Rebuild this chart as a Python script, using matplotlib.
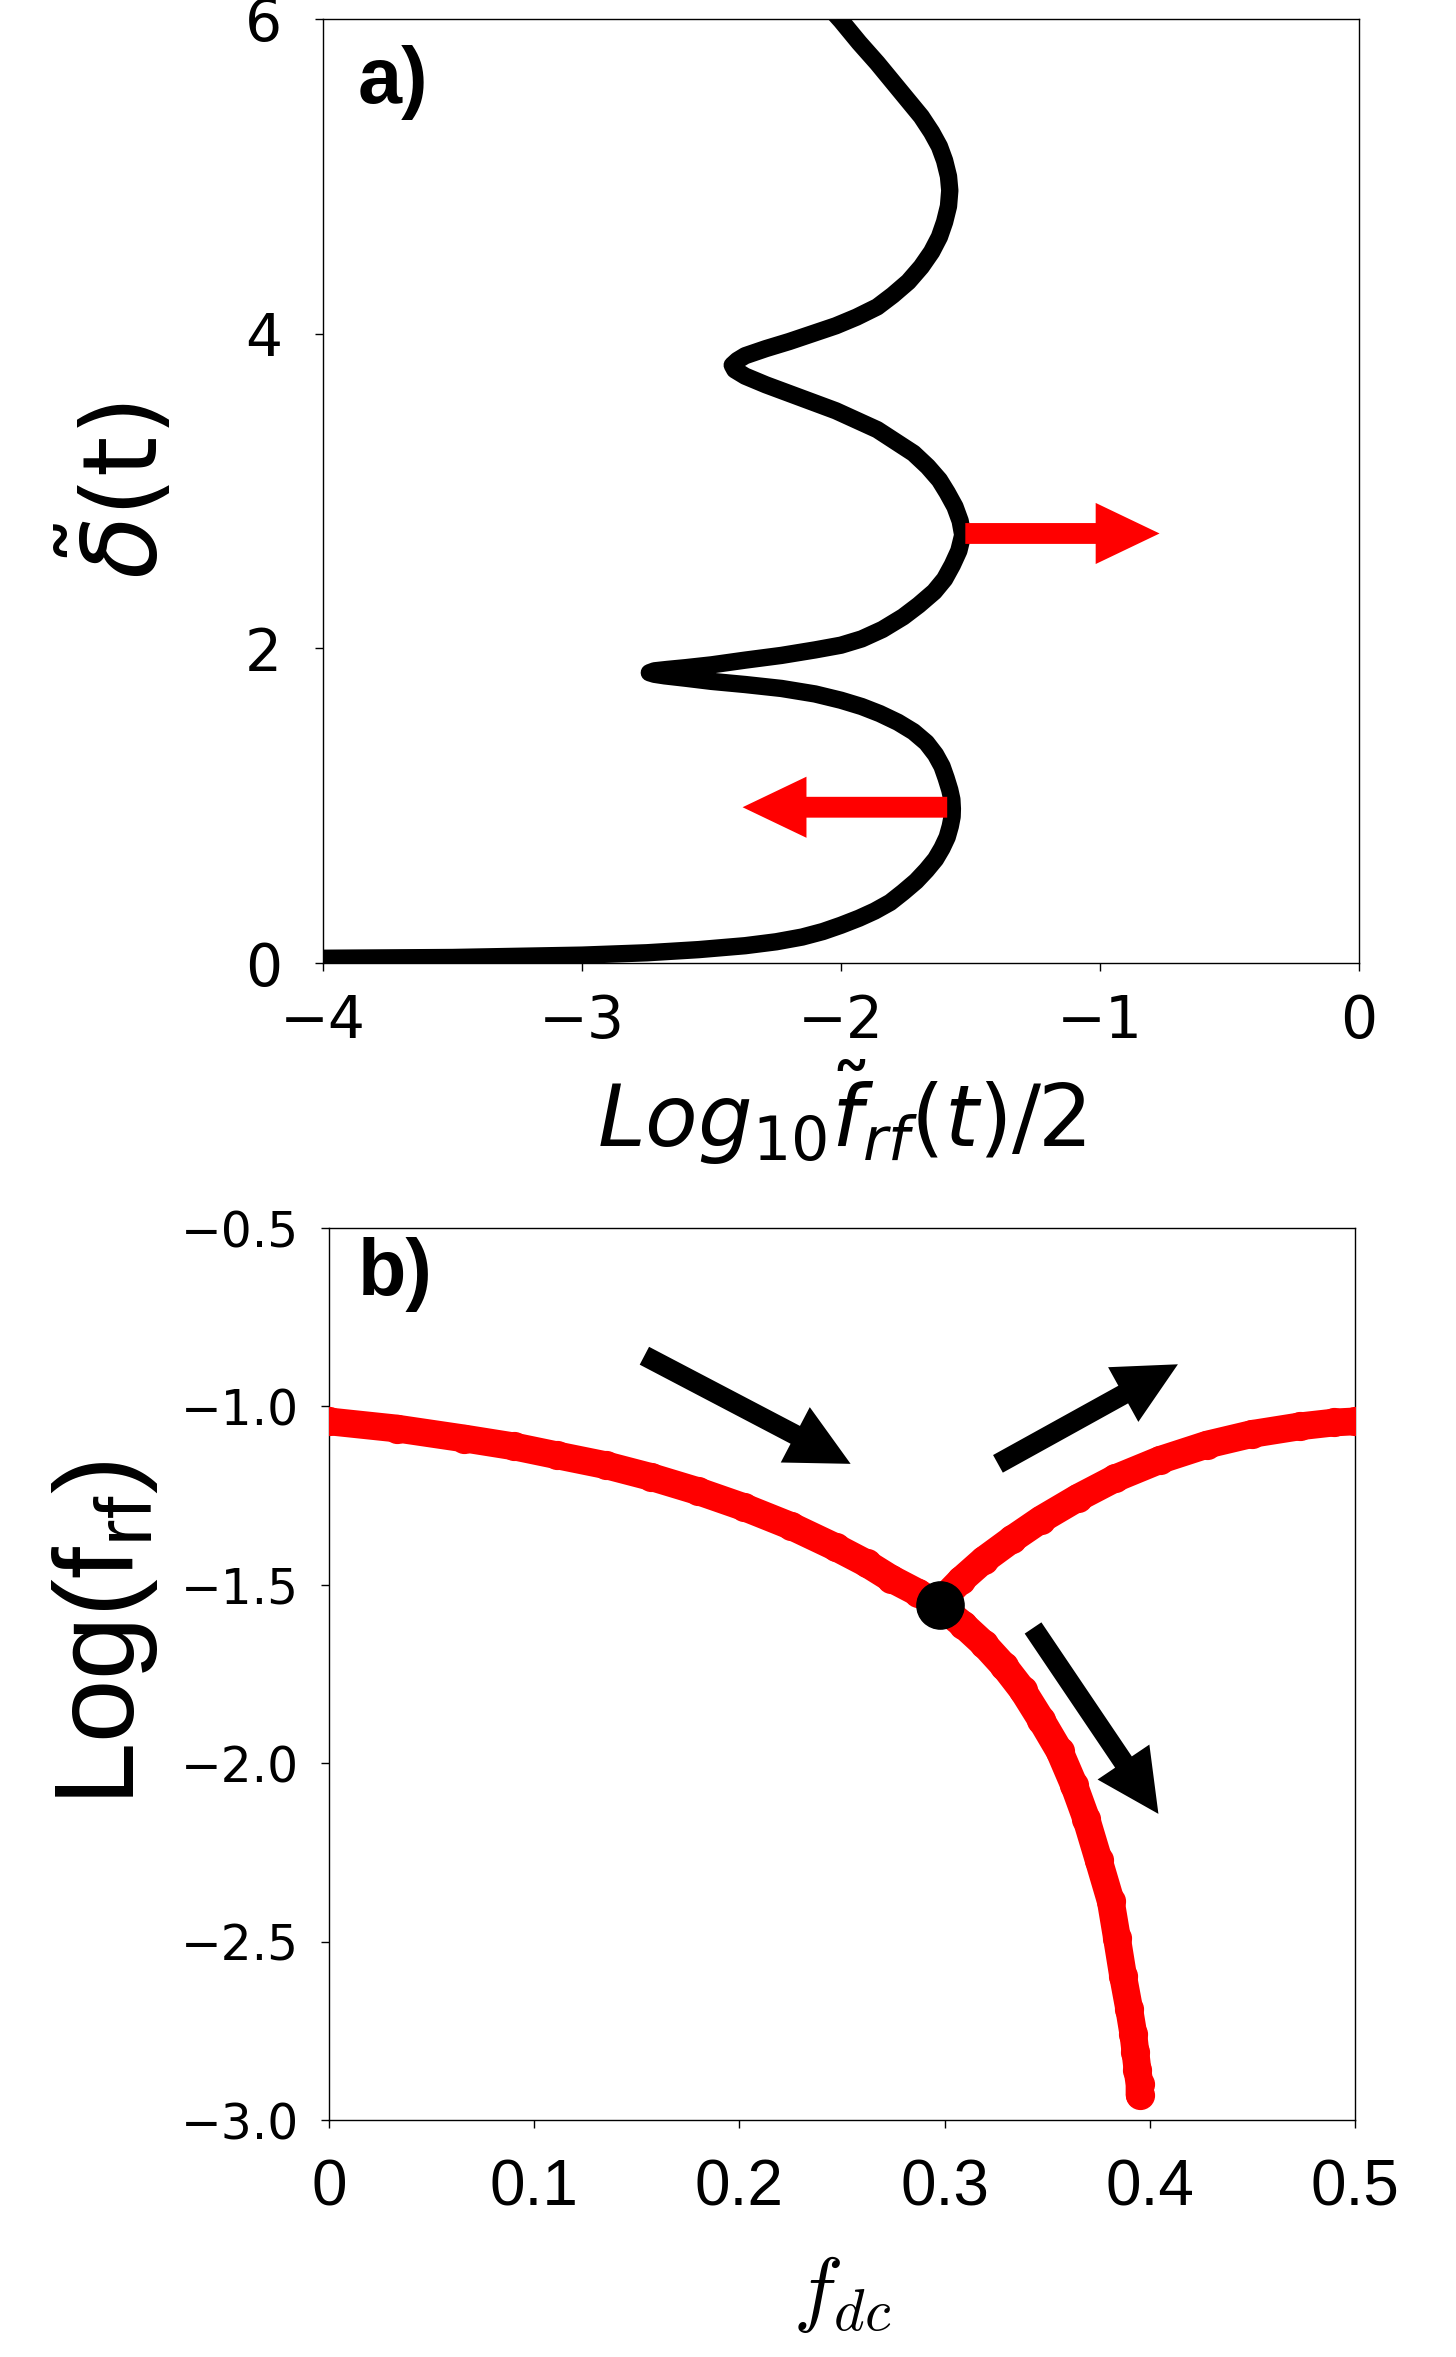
import matplotlib
matplotlib.use("Agg")
import matplotlib.pyplot as plt

# ---------------- data: panel a ----------------
curve_a_x = [-4.00, -3.50, -3.00, -2.75, -2.55, -2.37, -2.25, -2.15, -2.07, -2.00,
             -1.93, -1.87, -1.81, -1.76, -1.71, -1.67, -1.635, -1.61, -1.59, -1.578,
             -1.571, -1.57, -1.572, -1.58, -1.594, -1.61, -1.635, -1.67, -1.72, -1.78,
             -1.85, -1.92, -2.00, -2.10, -2.23, -2.37, -2.50, -2.60, -2.68, -2.72,
             -2.74, -2.72, -2.67, -2.60, -2.50, -2.37, -2.23, -2.10, -2.00, -1.92,
             -1.84, -1.76, -1.70, -1.64, -1.60, -1.57, -1.545, -1.53, -1.54, -1.56,
             -1.59, -1.62, -1.665, -1.72, -1.79, -1.86, -1.94, -2.02, -2.11, -2.20,
             -2.29, -2.37, -2.41, -2.42, -2.40, -2.37, -2.29, -2.20, -2.11, -2.02,
             -1.94, -1.86, -1.80, -1.74, -1.69, -1.65, -1.62, -1.60, -1.585, -1.58,
             -1.585, -1.60, -1.62, -1.65, -1.69, -1.74, -1.80, -1.86, -1.93, -2.00,
             -2.06]
curve_a_y = [0.030, 0.035, 0.050, 0.065, 0.085, 0.110, 0.135, 0.165, 0.200, 0.240,
             0.285, 0.330, 0.385, 0.450, 0.520, 0.590, 0.660, 0.730, 0.800, 0.870,
             0.930, 0.980, 1.040, 1.100, 1.175, 1.250, 1.325, 1.400, 1.470, 1.530,
             1.585, 1.630, 1.670, 1.710, 1.745, 1.770, 1.790, 1.810, 1.825, 1.835,
             1.845, 1.857, 1.866, 1.877, 1.895, 1.925, 1.955, 1.990, 2.020, 2.060,
             2.120, 2.200, 2.275, 2.360, 2.440, 2.530, 2.620, 2.720, 2.810, 2.900,
             2.990, 3.070, 3.155, 3.240, 3.315, 3.390, 3.450, 3.510, 3.565, 3.620,
             3.675, 3.730, 3.770, 3.800, 3.830, 3.860, 3.905, 3.950, 4.000, 4.050,
             4.105, 4.170, 4.245, 4.330, 4.425, 4.520, 4.615, 4.710, 4.810, 4.910,
             5.000, 5.100, 5.190, 5.280, 5.380, 5.480, 5.600, 5.720, 5.850, 5.990,
             6.100]
arrows_a_tail = [(-1.52, 2.73), (-1.59, 0.99)]
arrows_a_tip = [(-0.77, 2.73), (-2.38, 0.99)]
xticks_a = [-4, -3, -2, -1, 0]
yticks_a = [0, 2, 4, 6]

# ---------------- data: panel b ----------------
left_x = [0.000, 0.033, 0.066, 0.090, 0.111, 0.135, 0.157, 0.180, 0.202, 0.225,
          0.247, 0.262, 0.274, 0.287, 0.298, 0.309, 0.319, 0.329, 0.338, 0.347,
          0.356, 0.363, 0.369, 0.375, 0.381, 0.384, 0.387, 0.390, 0.392, 0.393,
          0.394, 0.395, 0.395]
left_y = [-1.042, -1.062, -1.090, -1.112, -1.137, -1.165, -1.198, -1.238, -1.282, -1.335,
          -1.395, -1.440, -1.483, -1.522, -1.560, -1.612, -1.665, -1.728, -1.795, -1.878,
          -1.966, -2.060, -2.155, -2.270, -2.387, -2.490, -2.597, -2.690, -2.760, -2.810,
          -2.860, -2.900, -2.929]
right_x = [0.298, 0.308, 0.319, 0.333, 0.347, 0.365, 0.383, 0.405, 0.428, 0.450,
           0.473, 0.490, 0.500]
right_y = [-1.546, -1.487, -1.431, -1.372, -1.317, -1.256, -1.202, -1.150, -1.107, -1.077,
           -1.056, -1.045, -1.042]
junction = (0.2978, -1.557)
arrows_b_tail = [(0.1537, -0.858), (0.326, -1.161), (0.3431, -1.621)]
arrows_b_tip = [(0.2542, -1.161), (0.4137, -0.882), (0.4042, -2.142)]
xticks_b = [0, 0.1, 0.2, 0.3, 0.4, 0.5]
xticklabels_b = ["0", "0.1", "0.2", "0.3", "0.4", "0.5"]
yticks_b = [-3.0, -2.5, -2.0, -1.5, -1.0, -0.5]

# ---------------- figure ----------------
W, H = 1456, 2357
fig = plt.figure(figsize=(W / 100, H / 100), dpi=100)
fig.patch.set_facecolor("white")

ax_a = fig.add_axes([323 / W, 1 - 963 / H, 1036 / W, 944 / H])
ax_b = fig.add_axes([329 / W, 1 - 2120 / H, 1026 / W, 892 / H])

for ax in (ax_a, ax_b):
    for sp in ax.spines.values():
        sp.set_linewidth(1.0)

# ----- panel a -----
ax_a.plot(curve_a_x, curve_a_y, color="black", lw=12.5, solid_joinstyle="round",
          solid_capstyle="round", zorder=3)
for (tx, ty), (hx, hy) in zip(arrows_a_tail, arrows_a_tip):
    ax_a.annotate("", xy=(hx, hy), xytext=(tx, ty),
                  arrowprops=dict(arrowstyle="simple,head_length=46,head_width=44,tail_width=15",
                                  mutation_scale=1, color="#ff0000", lw=0,
                                  shrinkA=0, shrinkB=0), zorder=4)
ax_a.set_xlim(-4, 0)
ax_a.set_ylim(0, 6)
ax_a.set_xticks(xticks_a)
ax_a.set_yticks(yticks_a)
ax_a.tick_params(axis="x", labelsize=42, length=5.5, width=1, pad=16)
ax_a.tick_params(axis="y", labelsize=42, length=5.5, width=1, pad=24)
ax_a.set_ylabel(r"$\tilde{\delta}$(t)", fontsize=74)
ax_a.yaxis.set_label_coords(-0.138, 0.5)
ax_a.set_xlabel(r"$Log_{10}\tilde{f}_{rf}(t)/2$", fontsize=62)
ax_a.xaxis.set_label_coords(0.5, -0.10)
ax_a.text(0.033, 0.9725, "a)", transform=ax_a.transAxes, fontsize=57,
          fontweight="bold", family="Liberation Sans", va="top", ha="left")

# ----- panel b -----
for bx, by in ((left_x, left_y), (right_x, right_y)):
    ax_b.plot(bx, by, color="#ff0000", lw=20, marker="o", markersize=20,
              solid_capstyle="round", solid_joinstyle="round", zorder=3)
ax_b.plot([junction[0]], [junction[1]], marker="o", markersize=34, color="black",
          linestyle="none", zorder=5)
for (tx, ty), (hx, hy) in zip(arrows_b_tail, arrows_b_tip):
    ax_b.annotate("", xy=(hx, hy), xytext=(tx, ty),
                  arrowprops=dict(arrowstyle="simple,head_length=45,head_width=45,tail_width=14.5",
                                  mutation_scale=1, color="black", lw=0,
                                  shrinkA=0, shrinkB=0), zorder=4)
ax_b.set_xlim(0, 0.5)
ax_b.set_ylim(-3.0, -0.5)
ax_b.set_xticks(xticks_b)
ax_b.set_xticklabels(xticklabels_b, fontsize=46, family="Liberation Sans")
ax_b.set_yticks(yticks_b)
ax_b.tick_params(axis="x", length=5.5, width=1, pad=22)
ax_b.tick_params(axis="y", labelsize=35, length=5.5, width=1, pad=16)
ax_b.set_ylabel(r"Log(f$_\mathregular{rf}$)", fontsize=82, family="Liberation Sans")
ax_b.yaxis.set_label_coords(-0.165, 0.546)
ax_b.set_xlabel(r"$f_{dc}$", fontsize=60, math_fontfamily="cm")
ax_b.xaxis.set_label_coords(0.5, -0.15)
ax_b.text(0.028, 0.99, "b)", transform=ax_b.transAxes, fontsize=57,
          fontweight="bold", family="Liberation Sans", va="top", ha="left")

fig.savefig("out.png", dpi=100, facecolor="white")
